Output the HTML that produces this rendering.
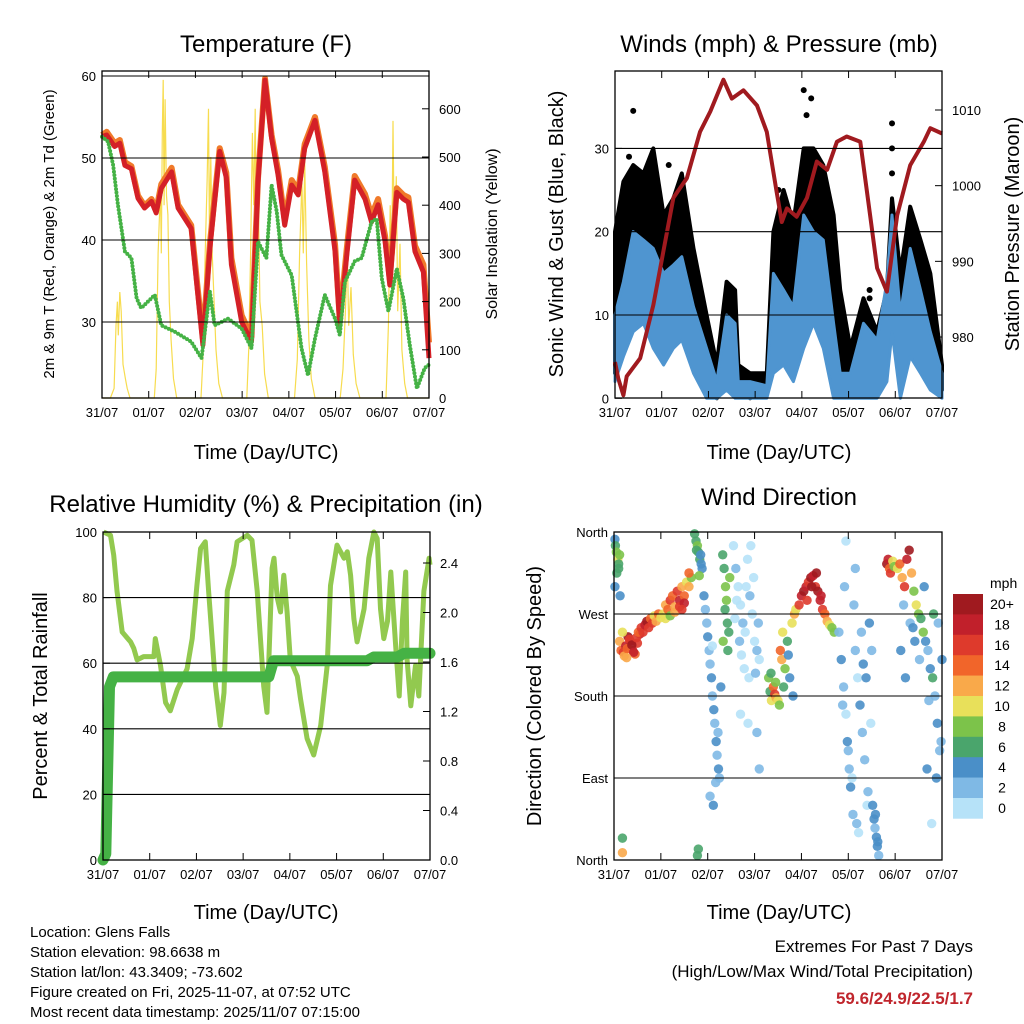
<!DOCTYPE html>
<html><head><meta charset="utf-8"><style>
html,body{margin:0;padding:0;background:#fff}
svg{display:block;font-family:"Liberation Sans",sans-serif}
</style></head><body>
<svg id="c" width="1024" height="1024" viewBox="0 0 1024 1024" xmlns="http://www.w3.org/2000/svg">
<g id="bg"></g>
<text x="266" y="52" font-size="24" text-anchor="middle">Temperature (F)</text>
<text x="779" y="52" font-size="24" text-anchor="middle">Winds (mph) &amp; Pressure (mb)</text>
<text x="266" y="512" font-size="24" text-anchor="middle">Relative Humidity (%) &amp; Precipitation (in)</text>
<text x="779" y="505" font-size="24" text-anchor="middle">Wind Direction</text>
<text x="266" y="459" font-size="20" text-anchor="middle">Time (Day/UTC)</text>
<text x="779" y="459" font-size="20" text-anchor="middle">Time (Day/UTC)</text>
<text x="266" y="919" font-size="20" text-anchor="middle">Time (Day/UTC)</text>
<text x="779" y="919" font-size="20" text-anchor="middle">Time (Day/UTC)</text>
<text transform="translate(54,234) rotate(-90)" font-size="15" text-anchor="middle">2m &amp; 9m T (Red, Orange) &amp; 2m Td (Green)</text>
<text transform="translate(497,234) rotate(-90)" font-size="16" text-anchor="middle">Solar Insolation (Yellow)</text>
<text transform="translate(563,234) rotate(-90)" font-size="20" text-anchor="middle">Sonic Wind &amp; Gust (Blue, Black)</text>
<text transform="translate(1019,234) rotate(-90)" font-size="20" text-anchor="middle">Station Pressure (Maroon)</text>
<text transform="translate(47,696) rotate(-90)" font-size="20" text-anchor="middle">Percent &amp; Total Rainfall</text>
<text transform="translate(541,696) rotate(-90)" font-size="20" text-anchor="middle">Direction (Colored By Speed)</text>
<g font-size="15">
<text x="30" y="937">Location: Glens Falls</text>
<text x="30" y="957">Station elevation: 98.6638 m</text>
<text x="30" y="977">Station lat/lon: 43.3409; -73.602</text>
<text x="30" y="997">Figure created on Fri, 2025-11-07, at 07:52 UTC</text>
<text x="30" y="1017">Most recent data timestamp: 2025/11/07 07:15:00</text>
</g>
<text x="973" y="952" font-size="17" text-anchor="end">Extremes For Past 7 Days</text>
<text x="973" y="977" font-size="17" text-anchor="end">(High/Low/Max Wind/Total Precipitation)</text>
<text x="973" y="1004" font-size="17" font-weight="bold" fill="#c0262d" text-anchor="end">59.6/24.9/22.5/1.7</text>
<g id="fg"></g>
</svg>
<script>
const dayLabels=["31/07","01/07","02/07","03/07","04/07","05/07","06/07","07/07"];
// Temperature panel
const tempDays=[0,0.1,0.27,0.38,0.49,0.63,0.77,0.91,1.06,1.16,1.27,1.49,1.63,1.91,2.06,2.16,2.31,2.52,2.66,2.77,2.99,3.2,3.34,3.49,3.63,3.77,3.91,4.06,4.2,4.34,4.56,4.77,4.99,5.09,5.24,5.41,5.63,5.77,5.91,6.06,6.16,6.31,6.45,6.56,6.7,6.88,7.0];
const tempRed=[52.6,52.8,51.4,51.8,49.1,48.7,45.1,43.9,44.7,43.3,46.3,48.3,43.9,41.4,32.9,27.2,39,50.8,47.6,37,30,27.6,47,59.5,52.4,47.9,41.8,46.7,45.5,51.2,54.6,48.3,38.6,29.6,38.2,47.3,45,42.2,44.3,39.8,34.5,45.8,45,44.6,38.6,36.1,25.6];
const tempOrange=[52.8,53.2,51.8,52.2,49.5,49,45.4,44.2,45,43.6,46.8,48.8,44.3,41.8,33.5,28,39.6,51.2,48.2,37.8,30.8,28.2,47.5,59.7,52.8,48.5,42.4,47.3,46,51.7,55,48.9,39.4,30.2,39,47.8,45.6,43,45,40.5,35.2,46.3,45.5,45.2,39.3,37,27.5];
const dewDays=[0,0.13,0.24,0.34,0.49,0.63,0.74,0.84,1.13,1.27,1.56,1.91,2.13,2.31,2.41,2.7,2.99,3.2,3.34,3.52,3.63,3.74,3.84,4.06,4.27,4.41,4.56,4.77,4.99,5.09,5.2,5.41,5.56,5.77,5.88,5.99,6.13,6.31,6.45,6.59,6.74,6.91,7];
const dewVals=[52.6,52,49.1,44.3,38.6,37.8,32.9,31.7,33.3,29.6,28.8,27.6,25.6,33.7,29.6,30.4,29.2,26.8,39.8,37.8,46.7,43.5,38.2,35.7,26.8,23.5,28,33.3,30.4,28.4,34.9,37.4,37.8,42.2,42.6,35.3,31.3,36.5,32.9,27.2,21.9,24.4,24.8];
const solarDays=[0,0.18,0.26,0.3,0.33,0.35,0.38,0.41,0.45,0.5,0.54,0.6,1.12,1.16,1.2,1.23,1.25,1.27,1.29,1.31,1.33,1.35,1.38,1.41,1.44,1.48,1.53,1.6,2.12,2.16,2.21,2.25,2.28,2.3,2.33,2.36,2.4,2.44,2.5,2.58,3.1,3.14,3.18,3.22,3.25,3.28,3.31,3.34,3.38,3.43,3.48,3.56,4.12,4.18,4.23,4.28,4.31,4.34,4.38,4.43,4.48,4.56,5.1,5.16,5.21,5.25,5.28,5.33,5.38,5.44,5.52,6.08,6.13,6.17,6.2,6.23,6.26,6.3,6.33,6.38,6.42,6.48,6.54,7];
const solarVals=[0,0,20,150,200,130,220,180,70,40,20,0,0,60,300,380,440,300,550,660,400,620,420,380,200,120,40,0,0,80,300,450,600,350,500,300,200,100,30,0,0,100,300,550,400,600,250,450,200,150,50,0,0,80,300,450,300,490,280,120,40,0,0,60,180,300,150,230,90,30,0,0,150,400,250,575,300,460,180,320,100,30,0,0];
// Winds panel
const windDays=[0,0.18,0.39,0.61,0.82,1.04,1.25,1.43,1.68,1.96,2.18,2.39,2.57,2.64,2.89,3.25,3.39,3.61,3.82,4.04,4.25,4.46,4.68,4.82,5.04,5.32,5.61,5.82,5.93,6.11,6.32,6.54,6.75,7];
const sustLow=[2,5,8,9,6,4,6,7,3,0,0,1,0,0,0,0,3,4,2,6,9,6,0,0,0,0,0,2,8,0,5,3,1,0];
const sustHigh=[10,14,20,19,18,15,16,17,11,6,2,10,9,2,2,1.5,15,13,11,22,20,19,9,3,3,9,7,14,22,10,18,13,8,3];
const gustLow=[3,10,12,10,8,6,8,9,5,1,0,3,3,1,0,1,7,6,5,11,12,10,4,1,2,2,2,5,10,2,9,6,3,1];
const gustHigh=[20,26,28,27,30,22,24,27,18,10,4,14,13,4,3,3,20,25,21,30,30,28,22,13,6,12,8,13,24,15,23,19,15,4];
const gustPeakDays=[0.39,0.3,0.5,4.04,4.2,4.1,5.93,5.93,5.93,5.45,5.45,1.15,3.5];
const gustPeakVals=[34.5,29,27,37,36,34,33,30,27,13,12,28,25];
const presDays=[0,0.07,0.18,0.25,0.54,0.82,1.25,1.54,1.82,2.04,2.32,2.5,2.75,3.04,3.25,3.46,3.57,3.68,3.89,4.11,4.32,4.54,4.75,4.96,5.25,5.46,5.61,5.82,6.04,6.32,6.61,6.75,7];
const presVals=[976.7,974.5,972.3,974.8,977.2,984.2,998.4,1001,1007.1,1009.8,1014,1011.5,1012.6,1010.6,1007.1,999.2,995.2,997,995.9,998.4,1003.2,1002.1,1005.8,1006.5,1005.8,996.1,989.1,986,996.1,1002.7,1005.8,1007.6,1006.9];
// Humidity panel
const rhDays=[0.01,0.16,0.23,0.3,0.41,0.59,0.66,0.73,0.87,1.09,1.12,1.23,1.34,1.44,1.59,1.8,1.91,2.01,2.09,2.19,2.26,2.41,2.51,2.59,2.66,2.8,2.87,3.09,3.19,3.3,3.44,3.51,3.62,3.66,3.73,3.8,3.87,3.94,4.01,4.16,4.23,4.37,4.51,4.66,4.8,4.87,5.01,5.16,5.23,5.3,5.37,5.44,5.59,5.69,5.8,5.87,5.94,6.01,6.09,6.16,6.26,6.34,6.41,6.48,6.51,6.59,6.69,6.76,6.87,6.98,7];
const rhVals=[100,99,93,82,69.5,66.5,64.5,61,62,62,67.5,59.3,48,45.5,52,58.3,67.5,83.7,95,97,82,53,41,51,82,90,97,99,97.5,82,53,45,89,92,80,75.6,86.8,75.6,61,56,49,37,32,41,59.3,83.7,96,92,94,86.8,73.5,66.5,76.6,92,100,98,76.6,67.5,72.8,87.8,66.5,50,72.8,87.8,61,47,59.3,50,82,92,90];
const precipDays=[0,0.06,0.14,0.22,3.55,3.65,5.65,5.8,6.3,6.45,7];
const precipVals=[0,0.05,1.4,1.48,1.48,1.61,1.61,1.64,1.64,1.67,1.67];
// Wind direction panel
const dirDays=[0.02,0.03,0.05,0.08,0.1,0.12,0.02,0.06,0.1,0.13,
0.12,0.15,0.2,0.25,0.3,0.35,0.4,0.45,0.5,0.55,0.18,0.22,0.28,0.33,0.38,0.42,0.48,0.52,0.58,0.27,
0.62,0.66,0.7,0.74,0.78,0.82,0.86,0.9,0.95,1.0,
1.05,1.1,1.15,1.2,1.25,1.3,1.35,1.4,1.45,1.5,1.55,1.6,1.65,1.1,1.2,1.3,1.4,1.5,1.6,1.45,
1.72,1.75,1.78,1.8,1.83,1.86,1.88,1.76,1.82,1.85,1.78,1.8,0.18,0.18,
1.92,1.95,1.98,2.0,2.03,2.05,2.08,2.1,2.13,2.15,2.18,2.2,2.23,2.25,2.05,2.12,2.17,2.22,2.28,2.1,
2.32,2.35,2.38,2.4,2.42,2.45,2.33,2.37,2.43,2.47,
2.55,2.6,2.65,2.7,2.75,2.8,2.85,2.9,2.95,3.0,3.05,3.1,2.58,2.68,2.78,2.88,2.98,3.08,2.62,2.72,2.82,2.92,3.02,2.7,2.86,3.05,3.1,
3.3,3.33,3.36,3.4,3.43,3.46,3.5,3.53,3.35,3.45,
3.55,3.58,3.6,3.65,3.7,3.75,3.8,3.85,3.88,3.62,3.72,3.82,
3.95,4.0,4.05,4.1,4.15,4.2,4.25,4.3,4.35,4.4,4.45,4.5,4.55,4.6,4.65,4.7,4.12,4.22,4.32,4.42,
4.8,4.85,4.9,4.95,5.0,5.05,5.1,5.15,5.2,5.25,5.3,5.35,5.4,5.45,5.5,4.88,4.98,5.08,5.18,5.28,5.38,5.48,4.92,5.12,5.32,5.02,5.22,5.42,4.95,5.15,
5.52,5.55,5.57,5.6,5.62,5.65,5.58,5.63,
5.82,5.85,5.88,5.9,5.95,5.98,
6.05,6.1,6.15,6.2,6.25,6.3,6.35,6.4,6.45,6.5,6.55,6.6,6.12,6.22,6.32,6.42,6.52,6.62,6.18,6.38,
6.65,6.7,6.75,6.8,6.85,6.9,6.95,7.0,6.72,6.88,6.78,6.92,6.98,6.68,6.82];
const dirDegs=[352,345,338,330,325,335,300,315,320,290,
240,230,228,235,245,240,230,226,238,248,250,224,232,242,236,228,244,250,255,222,
250,258,262,255,265,260,268,262,270,266,
270,280,275,285,290,278,295,285,300,290,305,300,310,265,268,272,278,282,315,275,
358,350,345,338,330,325,320,340,312,335,5,12,24,8,
290,275,260,245,230,215,200,180,165,150,130,115,100,90,70,60,85,140,190,235,
335,320,300,285,260,250,240,275,230,310,
345,320,300,280,260,250,330,290,270,240,230,220,265,240,210,200,310,260,285,225,300,345,205,160,150,140,100,
200,185,175,190,182,178,175,170,205,195,
230,220,250,210,240,200,260,270,275,190,225,180,
280,290,295,300,305,310,312,300,295,285,275,270,262,258,255,250,285,300,315,290,
250,220,190,160,120,80,50,230,200,170,140,110,60,260,230,170,130,90,40,250,200,150,300,280,215,100,30,75,350,320,
60,45,35,25,15,5,50,20,
325,330,320,315,328,322,
320,325,310,300,330,340,315,295,280,270,265,250,230,200,260,240,220,300,280,255,
240,230,210,200,180,150,120,220,175,90,40,260,130,100,270];
const dirSpeeds=[4,6,8,10,6,8,4,6,7,5,
12,14,16,18,20,19,17,15,16,18,10,12,14,17,20,18,16,15,17,13,
16,18,20,16,14,16,10,12,14,10,
10,12,14,16,14,12,16,18,12,14,10,12,8,10,8,12,16,18,14,16,
6,6,8,7,6,4,4,6,8,5,6,6,6,12,
4,3,2,4,3,2,4,3,4,2,4,3,4,2,3,4,2,3,4,1,
7,6,8,9,6,7,8,6,7,8,
1,2,0,1,2,0,1,2,1,0,2,1,0,2,1,0,1,2,0,1,0,1,2,1,0,2,3,
8,6,10,14,16,12,10,8,7,9,
14,12,10,8,6,4,10,12,10,7,5,4,
16,18,20,19,17,20,18,16,20,18,16,14,12,10,8,8,17,20,21,18,
3,4,2,1,3,4,2,3,1,4,2,3,1,4,2,3,4,1,2,3,4,1,2,3,4,2,1,3,1,2,
4,4,3,4,4,3,4,4,
20,18,14,16,10,8,
10,14,12,16,18,20,12,8,10,8,6,8,4,4,3,4,2,4,3,4,
4,3,4,6,2,4,3,4,2,4,1,3,2,4,6];
const speedLabels=["20+","18","16","14","12","10","8","6","4","2","0"];
const speedColors=["#a01a1f","#c1202b","#de3a2c","#f1652a","#f9a94a","#e8e05a","#7cc34a","#4aa56c","#4a8fc8","#7fb9e5","#b6e2f8"];
const dirLabels=["North","East","South","West","North"];
const dirTickVals=[0,90,180,270,360];

const NS="http://www.w3.org/2000/svg";
const bg=document.getElementById('bg'), fg=document.getElementById('fg');
function el(tag,attrs,parent){const e=document.createElementNS(NS,tag);for(const k in attrs)e.setAttribute(k,attrs[k]);(parent||fg).appendChild(e);return e;}
function lin(d0,d1,r0,r1){return v=>r0+(v-d0)/(d1-d0)*(r1-r0);}
function pathFrom(xs,ys,fx,fy){return xs.map((d,i)=>(i?'L':'M')+fx(d).toFixed(1)+','+fy(ys[i]).toFixed(1)).join('');}
function bandFrom(xs,lo,hi,fx,fy){let p=xs.map((d,i)=>(i?'L':'M')+fx(d).toFixed(1)+','+fy(hi[i]).toFixed(1)).join('');for(let i=xs.length-1;i>=0;i--)p+='L'+fx(xs[i]).toFixed(1)+','+fy(lo[i]).toFixed(1);return p+'Z';}

function frame(L,R,T,B,name){
  const f=el('rect',{x:L,y:T,width:R-L,height:B-T,fill:'none',stroke:'#000','stroke-width':1.3});
  
  
  const fx=lin(0,7,L,R);
  dayLabels.forEach((lab,i)=>{
    const x=fx(i);
    el('line',{x1:x,x2:x,y1:B,y2:B-7,stroke:'#000'});
    el('line',{x1:x,x2:x,y1:T,y2:T+7,stroke:'#000'});
    const t=el('text',{x:x,y:B+19,'font-size':13,'text-anchor':'middle'});
    t.textContent=lab;
    
    
  });
  return fx;
}
function grid(L,R,y){el('line',{x1:L,x2:R,y1:y,y2:y,stroke:'#000','stroke-width':1.1});}
function ytick(x,y,txt,anchor,name,len){
  el('line',{x1:x,x2:x+len,y1:y,y2:y,stroke:'#000'});
  const t=el('text',{x:anchor==='end'?x-6:x+10,y:y+5,'font-size':13,'text-anchor':anchor});
  t.textContent=txt;
  
  
}

// ---------- Panel 1: temperature ----------
(function(){
  const L=102,R=429,T=71,B=398;
  const fy=lin(30,40,322,240), fs=lin(0,100,398,349.8);
  const fx=lin(0,7,L,R);
  const sol=el('path',{d:pathFrom(solarDays,solarVals,fx,fs),fill:'none',stroke:'#f7dc4f','stroke-width':1.2});
  
  
  const o=el('path',{d:pathFrom(tempDays,tempOrange,fx,fy),fill:'none',stroke:'#f07a2a','stroke-width':6,'stroke-linejoin':'round'});
  
  
  const r=el('path',{d:pathFrom(tempDays,tempRed,fx,fy),fill:'none',stroke:'#d42027','stroke-width':5,'stroke-linejoin':'round'});
  
  
  const g=el('path',{d:pathFrom(dewDays,dewVals,fx,fy),fill:'none',stroke:'#45b245','stroke-width':4,'stroke-dasharray':'0 3.5','stroke-linecap':'round'});
  
  
  [30,40,50,60].forEach(v=>{grid(L,R,fy(v));ytick(L,fy(v),String(v),'end','temp-y-tick-label',7);});
  [0,100,200,300,400,500,600].forEach(v=>{ytick(R,fs(v),String(v),'start','solar-y-tick-label',-7);});
  frame(L,R,T,B,'temp');
})();

// ---------- Panel 2: winds ----------
(function(){
  const L=615,R=942,T=71,B=398;
  const fy=lin(0,10,398.3,315), fp=lin(980,1010,337,110);
  const fx=lin(0,7,L,R);
  const gb=el('path',{d:bandFrom(windDays,gustLow,gustHigh,fx,fy),fill:'#000','stroke':'#000','stroke-width':4,'stroke-linejoin':'round'});
  
  
  gustPeakDays.forEach((d,i)=>{
    const c=el('circle',{cx:fx(d),cy:fy(gustPeakVals[i]),r:3,fill:'#000'});
    
    
  });
  const sb=el('path',{d:bandFrom(windDays,sustLow,sustHigh,fx,fy),fill:'#4f95d0',stroke:'#4f95d0','stroke-width':3,'stroke-linejoin':'round'});
  
  
  const p=el('path',{d:pathFrom(presDays,presVals,fx,fp),fill:'none',stroke:'#a01a1f','stroke-width':4,'stroke-linejoin':'round'});
  
  
  [10,20,30].forEach(v=>grid(L,R,fy(v)));
  [0,10,20,30].forEach(v=>ytick(L,fy(v),String(v),'end','wind-y-tick-label',7));
  [980,990,1000,1010].forEach(v=>ytick(R,fp(v),String(v),'start','pressure-y-tick-label',-7));
  frame(L,R,T,B,'winds');
})();

// ---------- Panel 3: humidity ----------
(function(){
  const L=103,R=430,T=532,B=860;
  const fy=lin(0,100,860,532), fr=lin(0,0.4,860,810.5);
  const fx=lin(0,7,L,R);
  const h=el('path',{d:pathFrom(rhDays,rhVals,fx,fy),fill:'none',stroke:'#92c94f','stroke-width':5,'stroke-linejoin':'round'});
  
  
  const pr=el('path',{d:pathFrom(precipDays,precipVals,fx,fr),fill:'none',stroke:'#45b245','stroke-width':11,'stroke-linejoin':'round','stroke-linecap':'round'});
  
  
  [20,40,60,80].forEach(v=>grid(L,R,fy(v)));
  [0,20,40,60,80,100].forEach(v=>ytick(L,fy(v),String(v),'end','humidity-y-tick-label',7));
  [0,0.4,0.8,1.2,1.6,2.0,2.4].forEach(v=>ytick(R,fr(v),v.toFixed(1),'start','precip-y-tick-label',-7));
  frame(L,R,T,B,'humidity');
})();

// ---------- Panel 4: wind direction ----------
(function(){
  const L=614,R=942,T=532,B=860;
  const fy=lin(0,360,860,532);
  const fx=lin(0,7,L,R);
  function colorFor(s){let idx=Math.min(10,Math.floor(s/2));return speedColors[10-idx];}
  dirDays.forEach((d,i)=>{
    const c=el('circle',{cx:fx(d),cy:fy(dirDegs[i]),r:4.7,fill:colorFor(dirSpeeds[i]),'fill-opacity':0.9});
    
    
  });
  [90,180,270].forEach(v=>grid(L,R,fy(v)));
  dirTickVals.forEach((v,i)=>ytick(L,fy(v),dirLabels[i],'end','direction-y-tick-label',7));
  frame(L,R,T,B,'direction');
  const cbT=594,h=20.4;
  const lab=el('text',{x:990,y:588,'font-size':14});
  lab.textContent='mph';
  
  
  speedColors.forEach((col,i)=>{
    const r=el('rect',{x:953,y:cbT+i*h,width:30,height:h+0.3,fill:col});
    
    
    const t=el('text',{x:1002,y:cbT+i*h+15,'font-size':14,'text-anchor':'middle'});
    t.textContent=speedLabels[i];
    
    
  });
})();
</script>
</body></html>
